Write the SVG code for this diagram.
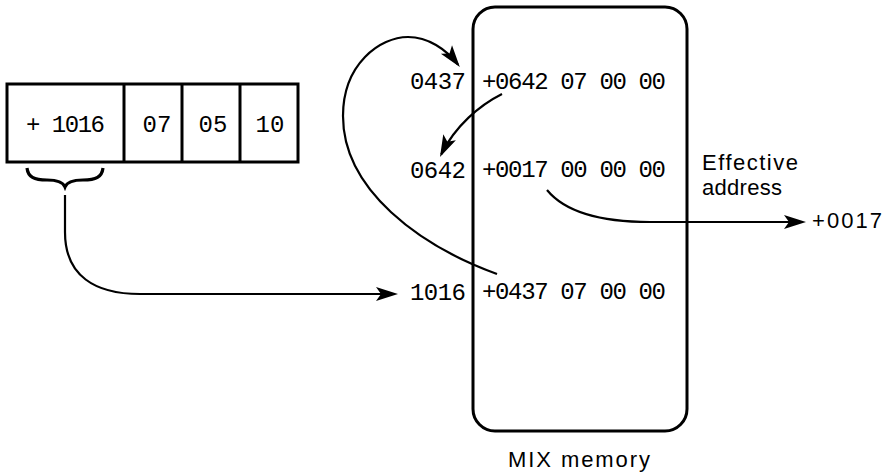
<svg xmlns="http://www.w3.org/2000/svg" width="886" height="476" viewBox="0 0 886 476">
  <style>
    .box { fill: none; stroke: #000; stroke-width: 3; }
    .mono { font-family: "Liberation Mono", "DejaVu Sans Mono", monospace; font-size: 24px; fill: #000; }
    .sans { font-family: "Liberation Sans", "DejaVu Sans", sans-serif; font-size: 22px; fill: #000; }
    .wire { fill: none; stroke: #000; stroke-width: 2.2; }
  </style>
  <defs>
    <marker id="arrow" markerUnits="userSpaceOnUse" viewBox="-21 -9 25 18" markerWidth="25" markerHeight="18" refX="0" refY="0" orient="auto">
      <path d="M3,0 L-19,-7 L-14,0 L-19,7 Z" fill="#000"/>
    </marker>
  </defs>
  <rect width="886" height="476" fill="#fff"/>

  <!-- instruction word: sign+address, I, F, C fields -->
  <g id="instruction">
    <rect class="box" x="7" y="84" width="291" height="78"/>
    <line class="box" x1="124" y1="84" x2="124" y2="162"/>
    <line class="box" x1="182" y1="84" x2="182" y2="162"/>
    <line class="box" x1="240" y1="84" x2="240" y2="162"/>
    <text class="mono" x="26" y="132" textLength="79">+ 1016</text>
    <text class="mono" x="157" y="132" text-anchor="middle">07</text>
    <text class="mono" x="213" y="132" text-anchor="middle">05</text>
    <text class="mono" x="270" y="132" text-anchor="middle">10</text>
    <!-- brace under the address field -->
    <path d="M27,168 C28,177 34,180 47,180 C58,180 63,182 65,187 C67,182 72,180 83,180 C96,180 102,177 103,168" fill="none" stroke="#000" stroke-width="3.2"/>
  </g>

  <!-- memory block with its cells -->
  <g id="memory">
    <rect class="box" x="473" y="7" width="214" height="424" rx="22" ry="22"/>
    <text class="sans" x="508" y="467" textLength="142">MIX memory</text>
  </g>
  <g id="cell-0437">
    <text class="mono" x="466" y="89" text-anchor="end" textLength="56">0437</text>
    <text class="mono" x="482" y="89" textLength="184">+0642 07 00 00</text>
  </g>
  <g id="cell-0642">
    <text class="mono" x="466" y="178" text-anchor="end" textLength="56">0642</text>
    <text class="mono" x="482" y="177" textLength="184">+0017 00 00 00</text>
  </g>
  <g id="cell-1016">
    <text class="mono" x="466" y="300" text-anchor="end" textLength="56">1016</text>
    <text class="mono" x="482" y="299" textLength="184">+0437 07 00 00</text>
  </g>
  <g id="result">
    <text class="sans" x="702" y="170" textLength="96">Effective</text>
    <text class="sans" x="702" y="195" textLength="80">address</text>
    <text class="sans" x="812" y="228" textLength="70">+0017</text>
  </g>

  <!-- indirection chain -->
  <g id="connectors">
    <path class="wire" d="M65,195 L65,232 C65,276 95,294 140,294 L395,294" marker-end="url(#arrow)"/>
    <path class="wire" d="M497,274 C420,246 343,190 343,116 C343,64 380,37 408,37 C428,37 446,49 458,64.7" marker-end="url(#arrow)"/>
    <path class="wire" d="M502,94 C480,105 455,126 441.3,154.3" marker-end="url(#arrow)"/>
    <path class="wire" d="M547,190 C565,212 600,222 650,222 L803,222" marker-end="url(#arrow)"/>
  </g>
</svg>
